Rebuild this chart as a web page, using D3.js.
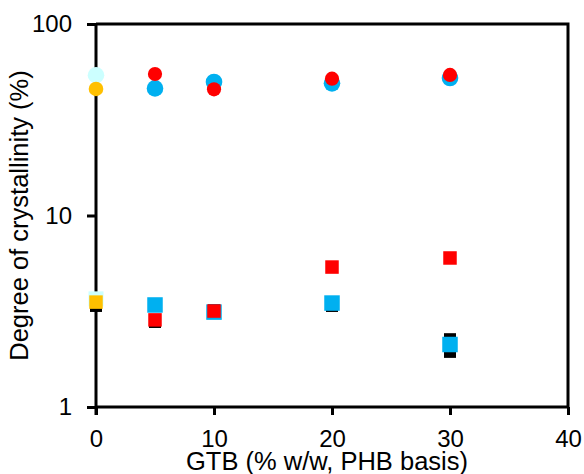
<!DOCTYPE html>
<html>
<head>
<meta charset="utf-8">
<script src="https://cdn.jsdelivr.net/npm/d3@7"></script>
<style>
  html, body { margin: 0; padding: 0; background: #fff; }
  svg { display: block; font-family: "Liberation Sans", Arial, sans-serif; }
</style>
</head>
<body>
<svg id="chart" width="584" height="474"></svg>
<script>
// GTB content (% w/w, PHB basis)
const gtb = [0, 5, 10, 20, 30];

// Degree of crystallinity (%) — circles (upper group)
const circNeatA = [54.0, null, null, null, null];
const circNeatB = [45.8, null, null, null, null];
const circBlue  = [null, 46.1, 49.8, 49.0, 52.2];
const circRed   = [null, 54.8, 45.6, 51.8, 54.2];

// Degree of crystallinity (%) — squares (lower group)
const sqBlackA  = [3.37, 2.78, 3.21, 3.37, 2.26];
const sqBlackB  = [null, null, null, null, 1.94];
const sqNeatA   = [3.67, null, null, null, null];
const sqNeatB   = [3.53, null, null, null, null];
const sqBlue    = [null, 3.41, 3.13, 3.49, 2.12];
const sqRed     = [null, 2.85, 3.17, 5.38, 6.0];

const xTicks = [0, 10, 20, 30, 40];
const yTicks = [1, 10, 100];

const svg = d3.select("#chart");
const m = { left: 96, right: 16, top: 24, bottom: 67 };
const W = 584, H = 474;

const x = d3.scaleLinear().domain([0, 40]).range([m.left, W - m.right]);
const y = d3.scaleLog().domain([1, 100]).range([H - m.bottom, m.top]);

const toPts = arr => arr.map((v, i) => ({ x: gtb[i], v })).filter(d => d.v != null);

function squares(arr, color, size) {
  svg.append("g").selectAll("rect").data(toPts(arr)).join("rect")
    .attr("x", d => x(d.x) - size / 2)
    .attr("y", d => y(d.v) - size / 2)
    .attr("width", size).attr("height", size)
    .attr("fill", color);
}
function circles(arr, color, r) {
  svg.append("g").selectAll("circle").data(toPts(arr)).join("circle")
    .attr("cx", d => x(d.x)).attr("cy", d => y(d.v)).attr("r", r)
    .attr("fill", color);
}

// Frame (top and right edges)
svg.append("path")
  .attr("d", `M${x(0)},${y(100)}H${x(40)}V${y(1)}`)
  .attr("fill", "none").attr("stroke", "#000").attr("stroke-width", 3);

// Axes
const yAxis = d3.axisLeft(y).tickValues(yTicks).tickFormat(d3.format("d"))
  .tickSizeInner(9).tickSizeOuter(0).tickPadding(15);
const xAxis = d3.axisBottom(x).tickValues(xTicks).tickFormat(d3.format("d"))
  .tickSizeInner(8).tickSizeOuter(0).tickPadding(15);

const gy = svg.append("g").attr("transform", `translate(${m.left},0)`).call(yAxis);
const gx = svg.append("g").attr("transform", `translate(0,${H - m.bottom})`).call(xAxis);

[gx, gy].forEach(g => {
  g.select(".domain").attr("stroke", "#000").attr("stroke-width", 3);
  g.selectAll(".tick line").attr("stroke", "#000").attr("stroke-width", 3);
  g.selectAll(".tick text").attr("fill", "#000")
    .style("font-family", '"Liberation Sans", Arial, sans-serif')
    .style("font-size", "24px");
});
gy.select(".domain").attr("d", `M0,${y(1) + 8}V${y(100)}`);
gx.select(".domain").attr("d", `M${x(0)},0H${x(40)}`);

// Markers
squares(sqBlackA, "#000", 12);
squares(sqBlackB, "#000", 12);
squares(sqNeatA, "#ccffff", 15);
squares(sqNeatB, "#ffc000", 13.5);
squares(sqBlue, "#00b0f0", 15.5);
squares(sqRed, "#ff0000", 13.5);

circles(circNeatA, "#ccffff", 8.3);
circles(circNeatB, "#ffc000", 7.3);
circles(circBlue, "#00b0f0", 8.3);
circles(circRed, "#ff0000", 7.1);

// Axis titles
svg.append("text")
  .attr("x", (x(0) + x(40)) / 2 - 5).attr("y", 470)
  .attr("text-anchor", "middle").attr("font-size", 25.5).attr("fill", "#000")
  .text("GTB (% w/w, PHB basis)");

svg.append("text")
  .attr("transform", `translate(28,${(y(1) + y(100)) / 2}) rotate(-90)`)
  .attr("text-anchor", "middle").attr("font-size", 25.5).attr("fill", "#000")
  .text("Degree of crystallinity (%)");
</script>
</body>
</html>
